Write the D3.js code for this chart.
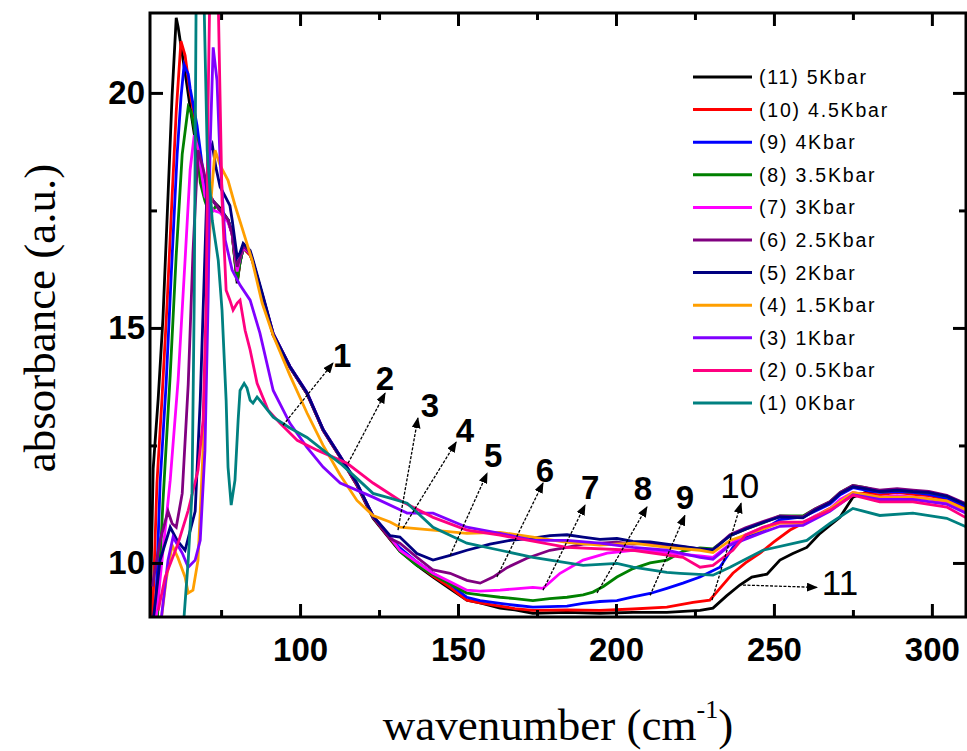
<!DOCTYPE html>
<html>
<head>
<meta charset="utf-8">
<script src="https://cdn.jsdelivr.net/npm/d3@7/dist/d3.min.js"></script>
<style>
  body { margin: 0; background: #fff; }
  svg { display: block; }
</style>
</head>
<body>
<svg></svg>
<script>
var screenWidth = 967
var screenHeight = 751

// legend text, top to bottom
var labels = ["(11) 5Kbar", "(10) 4.5Kbar", "(9) 4Kbar", "(8) 3.5Kbar", "(7) 3Kbar",
  "(6) 2.5Kbar", "(5) 2Kbar", "(4) 1.5Kbar", "(3) 1Kbar", "(2) 0.5Kbar", "(1) 0Kbar"]
var colors = ["#000000", "#ff0000", "#0000ff", "#008000", "#ff00ff",
  "#800080", "#000080", "#ff9f00", "#8000ff", "#ff0080", "#008080"]

var xMajorTicks = [100, 150, 200, 250, 300]
var xMinorTicks = [75, 125, 175, 225, 275]
var yMajorTicks = [10, 15, 20]
var yMinorTicks = [12.5, 17.5]

// [wavenumber, absorbance]
var p11 = [[52.5,8.6],[53.5,12.0],[55.1,13.5],[56.6,15.2],[58.2,17.8],[59.5,19.95],[60.8,21.6],[61.4,21.4],[62.3,21.0],[63.9,20.3],[65.2,19.7],[66.8,19.0],[68.4,18.2],[70.3,17.8],[72.5,17.7],[74.7,17.55],[77.2,17.3],[78.5,17.0],[80.1,15.95],[81.0,16.4],[82.0,16.7],[84.2,16.55],[85.1,16.4],[88.0,15.7],[91.5,14.85],[96.8,14.16],[102.2,13.6],[107.3,12.82],[112.7,12.25],[118.0,11.65],[123.1,10.95],[128.5,10.5],[131.6,10.25],[137,9.95],[142.1,9.7],[147.5,9.45],[152.8,9.21],[157,9.15],[163.3,9.04],[168,9.0],[173.7,8.93],[184.5,8.95],[194.9,8.93],[205.4,8.95],[216.1,8.95],[226.6,8.99],[230.7,9.04],[235,9.3],[239.2,9.53],[243,9.7],[247.8,9.76],[251.9,10.06],[256,10.2],[260.4,10.33],[264.6,10.63],[267.7,10.8],[270.9,10.97],[275.0,11.4],[279,11.5],[283.5,11.52],[289,11.55],[294,11.52],[299,11.5],[304.7,11.42],[311.1,11.22]]
var p10 = [[53.2,8.6],[54.7,11.7],[56.3,13.5],[57.9,15.5],[59.5,17.8],[60.8,19.6],[62.3,21.1],[63.6,20.8],[65.2,20.0],[67.1,19.3],[68.4,18.4],[70,17.9],[72.5,17.7],[74.7,17.5],[77.2,17.3],[78.5,17.0],[80.1,16.0],[81.0,16.4],[82.0,16.7],[84.2,16.55],[85.1,16.4],[88.0,15.7],[91.5,14.85],[96.8,14.16],[102.2,13.6],[107.3,12.82],[112.7,12.25],[118.0,11.65],[123.1,10.97],[128.5,10.52],[131.6,10.28],[137,9.98],[142.1,9.72],[147.5,9.48],[152.8,9.21],[157,9.15],[163.3,9.08],[168,9.03],[173.7,8.99],[184.5,9.0],[194.9,8.99],[205.4,9.02],[216.1,9.06],[224.4,9.16],[229.7,9.21],[232.9,9.46],[237.0,9.78],[241,10.0],[245.6,10.21],[250,10.45],[255.1,10.7],[262.3,10.95],[266,11.1],[270.9,11.27],[275.0,11.48],[279,11.48],[283.5,11.45],[289,11.5],[294,11.46],[299,11.43],[304.7,11.35],[311.1,11.15]]
var p9 = [[54.1,8.6],[55.7,11.7],[57.6,13.8],[59.2,16.1],[61.1,18.7],[62.3,19.9],[63.3,20.6],[64.6,20.4],[65.2,20.1],[67.4,19.3],[69.9,18.0],[72.5,17.7],[74.7,17.5],[77.2,17.3],[78.5,17.05],[80.1,16.1],[81.0,16.4],[82.0,16.7],[84.2,16.6],[85.1,16.4],[88.0,15.72],[91.5,14.88],[96.8,14.18],[102.2,13.62],[107.3,12.84],[112.7,12.27],[118.0,11.68],[123.1,11.0],[128.5,10.55],[131.6,10.32],[137,10.02],[142.1,9.78],[147.5,9.55],[152.8,9.27],[157,9.2],[163.3,9.14],[168,9.1],[173.7,9.06],[184.5,9.08],[189.6,9.14],[194.9,9.18],[200.3,9.2],[205.4,9.28],[210.8,9.35],[216.1,9.46],[221.2,9.57],[226.6,9.7],[232.9,9.91],[237.0,10.33],[241,10.55],[246.5,10.7],[251.9,10.92],[259.2,10.98],[263,11.1],[267.7,11.25],[271,11.45],[275.0,11.6],[279,11.55],[283.5,11.5],[289,11.52],[294,11.5],[299,11.46],[304.7,11.38],[311.1,11.2]]
var p8 = [[54.7,8.6],[56.6,11.3],[58.9,14.0],[60.8,16.55],[62.7,18.7],[64.6,19.7],[65.5,19.6],[66.1,19.4],[67.7,18.8],[68.4,18.1],[69.9,17.7],[71.5,17.4],[73.4,17.6],[74.7,17.5],[77.2,17.3],[78.5,17.0],[80.1,16.0],[81.0,16.4],[82.0,16.7],[84.2,16.6],[85.1,16.4],[88.0,15.7],[91.5,14.86],[96.8,14.17],[102.2,13.6],[107.3,12.83],[112.7,12.26],[118.0,11.67],[123.1,10.98],[128.5,10.55],[131.6,10.25],[137,9.95],[142.1,9.75],[147.5,9.55],[152.8,9.36],[157,9.32],[163.3,9.27],[168,9.24],[173.7,9.2],[179,9.24],[184.5,9.27],[189.6,9.32],[192.7,9.38],[196,9.5],[200.3,9.7],[205.4,9.88],[210.8,10.0],[216.1,10.06],[221.2,10.25],[226.6,10.32],[230.7,10.3],[236.1,10.58],[241,10.72],[246.5,10.85],[251.9,11.0],[259.2,11.0],[263,11.15],[267.7,11.3],[271,11.5],[275.0,11.65],[279,11.6],[283.5,11.52],[289,11.55],[294,11.52],[299,11.5],[304.7,11.42],[311.1,11.24]]
var p7 = [[54.1,8.6],[56.3,10.06],[58.9,11.76],[61.4,13.89],[63.6,16.44],[65.2,18.36],[66.5,19.1],[67.7,18.8],[69.9,17.8],[72.5,17.5],[74.7,17.45],[77.2,17.25],[78.5,17.0],[80.1,16.2],[81.0,16.5],[82.0,16.7],[84.2,16.6],[85.1,16.4],[88.0,15.72],[91.5,14.88],[96.8,14.18],[102.2,13.62],[107.3,12.84],[112.7,12.27],[118.0,11.68],[123.1,11.0],[128.5,10.55],[131.6,10.27],[137,10.02],[142.1,9.78],[147.5,9.6],[152.8,9.42],[157,9.4],[163.3,9.42],[168,9.45],[173.7,9.48],[176.9,9.46],[182.3,9.78],[189.6,10.06],[197.2,10.21],[205.4,10.27],[210.8,10.25],[216.1,10.22],[221.2,10.18],[226.6,10.15],[230.7,10.12],[236.1,10.4],[241,10.6],[246.5,10.75],[251.9,10.85],[259.2,10.85],[263,11.0],[267.7,11.15],[271,11.35],[275.0,11.5],[279,11.45],[283.5,11.4],[289,11.43],[294,11.4],[299,11.37],[304.7,11.28],[311.1,11.1]]
var p6 = [[53.2,9.5],[55.7,10.48],[58.2,11.1],[59.5,10.84],[60.8,10.76],[62.7,11.48],[64.6,13.8],[66.1,16.6],[67.7,18.78],[69.3,18.4],[70.9,17.9],[72.5,17.7],[74.7,17.5],[77.2,17.3],[78.5,17.0],[80.1,16.3],[81.0,16.5],[82.0,16.75],[84.2,16.6],[85.1,16.4],[88.0,15.7],[91.5,14.85],[96.8,14.16],[102.2,13.6],[107.3,12.82],[112.7,12.25],[118.0,11.66],[123.1,10.98],[128.5,10.52],[131.6,10.42],[137,10.12],[142.1,9.85],[147.5,9.78],[152.8,9.63],[157,9.57],[161.1,9.7],[165.5,9.9],[171.8,10.1],[179.1,10.27],[184.5,10.33],[189.6,10.4],[194.9,10.42],[200.3,10.44],[205.4,10.4],[210.8,10.42],[216.1,10.38],[221.2,10.34],[226.6,10.3],[230.7,10.28],[236.1,10.6],[241,10.75],[246.5,10.88],[251.9,11.0],[259.2,10.98],[263,11.15],[267.7,11.3],[271,11.5],[275.0,11.65],[279,11.6],[283.5,11.55],[289,11.58],[294,11.55],[299,11.52],[304.7,11.44],[311.1,11.25]]
var p5 = [[53.2,8.6],[55.7,10.06],[58.9,10.76],[61.1,10.48],[63.6,10.27],[66.8,11.1],[68.4,13.46],[69.9,16.6],[70.9,18.7],[72.2,18.9],[73.4,18.4],[74.7,18.0],[76.3,17.8],[77.8,17.6],[78.5,17.3],[80.1,16.5],[81.0,16.6],[82.0,16.8],[84.2,16.65],[85.1,16.45],[88.0,15.75],[91.5,14.88],[96.8,14.18],[102.2,13.62],[107.3,12.84],[112.7,12.27],[118.0,11.7],[123.1,11.0],[128.5,10.58],[131.6,10.55],[137,10.2],[142.1,10.06],[147.5,10.16],[152.8,10.27],[160.1,10.4],[166.5,10.48],[173.7,10.53],[179.1,10.58],[184.5,10.6],[189.6,10.55],[194.9,10.5],[200.3,10.52],[205.4,10.46],[210.8,10.45],[216.1,10.4],[221.2,10.35],[226.6,10.3],[230.7,10.28],[236.1,10.58],[241,10.72],[246.5,10.86],[251.9,10.98],[259.2,10.96],[263,11.12],[267.7,11.28],[271,11.48],[275.0,11.62],[279,11.58],[283.5,11.52],[289,11.55],[294,11.52],[299,11.5],[304.7,11.42],[311.1,11.23]]
var p4 = [[55.7,8.6],[57.6,9.63],[59.5,10.38],[61.4,10.1],[63.6,9.7],[64.6,9.36],[66.1,9.42],[67.7,10.06],[69.3,12.4],[70.6,15.59],[71.8,17.72],[73.1,18.78],[74.7,18.46],[77.2,18.14],[79.4,17.61],[81.6,17.14],[84.8,16.44],[88.0,15.53],[91.5,14.84],[96.8,13.99],[102.2,13.19],[107.3,12.5],[112.7,11.87],[118.0,11.33],[123.1,11.01],[128.5,10.87],[131.6,10.76],[142.1,10.7],[152.8,10.63],[163.3,10.65],[173.7,10.55],[184.5,10.44],[194.9,10.38],[205.4,10.42],[216.1,10.33],[226.6,10.27],[230.7,10.22],[236.1,10.48],[246.5,10.72],[251.9,10.85],[259.2,10.85],[267.7,11.15],[275,11.5],[283.5,11.4],[294,11.4],[304.7,11.32],[311.1,11.12]]
var p3 = [[55.7,8.6],[58.2,10.06],[59.8,10.55],[62.7,10.21],[64.6,9.91],[66.8,10.06],[68.4,10.48],[69.9,12.4],[70.9,15.59],[71.5,18.78],[72.5,20.97],[73.7,20.27],[74.7,18.57],[76.3,16.87],[78.5,16.23],[81.0,15.91],[84.2,15.59],[87.3,14.89],[91.5,13.67],[96.8,12.97],[102.2,12.46],[107.3,12.04],[112.7,11.7],[123.1,11.4],[133.9,11.06],[142.1,11.06],[152.8,10.76],[163.3,10.63],[173.7,10.48],[184.5,10.48],[194.9,10.42],[205.4,10.33],[216.1,10.27],[226.6,10.12],[230.7,10.08],[236.1,10.38],[246.5,10.65],[251.9,10.78],[259.2,10.8],[267.7,11.1],[275,11.45],[283.5,11.35],[294,11.35],[304.7,11.25],[311.1,11.05]]
var p2 = [[55.1,8.99],[57.3,9.7],[61.4,10.42],[64.6,11.12],[67.7,11.97],[69.3,13.04],[70.3,15.59],[70.9,19.84],[71.8,23.7],[73.1,23.7],[74.1,21.97],[74.7,19.84],[75.3,17.72],[76.6,15.8],[77.8,15.59],[78.8,15.38],[80.1,15.53],[81.0,15.59],[82.6,14.95],[84.2,14.53],[86.4,13.82],[89.9,13.25],[93.7,12.97],[99.1,12.61],[105.4,12.4],[114.9,12.12],[123.1,11.7],[131.6,11.33],[142.1,10.97],[152.8,10.7],[163.3,10.59],[184.5,10.33],[205.4,10.27],[221.2,10.12],[226.6,9.91],[230.7,9.95],[237,10.27],[241,10.59],[246.5,10.76],[251.9,10.87],[259.2,10.87],[267.7,11.12],[275,11.44],[283.5,11.3],[294,11.3],[304.7,11.19],[311.1,10.95]]
var p1 = [[63.0,8.6],[64.6,10.06],[65.8,11.48],[66.5,15.59],[67.1,21.97],[67.7,23.25],[69.0,23.25],[69.6,21.97],[70.6,18.78],[72.2,17.29],[74.1,16.44],[75.3,15.38],[76.6,13.46],[77.2,12.04],[78.2,11.23],[79.4,11.76],[80.4,13.04],[81.0,13.67],[82.3,13.82],[83.2,13.72],[84.2,13.46],[85.1,13.4],[86.4,13.53],[87.3,13.46],[91.5,13.1],[96.8,12.87],[102.2,12.67],[107.3,12.4],[112.7,12.12],[118.0,11.8],[123.1,11.48],[128.5,11.38],[133.9,11.27],[142.1,10.76],[152.8,10.42],[163.3,10.27],[173.7,10.12],[189.6,9.95],[200.3,9.99],[205.4,9.91],[216.1,9.8],[220.3,9.78],[230.7,9.74],[236.1,9.91],[246.5,10.27],[260.4,10.48],[267.7,10.84],[275,11.16],[283.5,11.01],[294,11.06],[304.7,10.95],[311.1,10.76]]

var series = [p11, p10, p9, p8, p7, p6, p5, p4, p3, p2, p1]

// curve tags with arrow tail (on curve), arrow head and tag position
var tagText = ["1", "2", "3", "4", "5", "6", "7", "8", "9", "10", "11"]
var tagFrom = [[94.6,12.93],[115.2,12.12],[131.0,10.7],[132.6,10.74],[147.5,10.16],[162.3,9.7],[176.9,9.42],[194.0,9.36],[210.8,9.31],[230.4,9.21],[240.2,9.53]]
var tagTo = [[110.4,14.25],[126.9,13.61],[137.3,13.08],[149.4,12.57],[159.2,11.91],[176.9,11.7],[190.2,11.23],[209.8,11.19],[221.8,11.01],[239.6,11.27],[263.6,9.48]]
var tagAt = [[113.3,14.42],[126.9,13.93],[141.1,13.36],[152.2,12.82],[161.1,12.29],[177.5,11.97],[191.8,11.61],[208.5,11.59],[221.8,11.4],[239.2,11.65],[270.9,9.59]]

var svg = d3.select('svg')
svg.attr("width", screenWidth)
svg.attr("height", screenHeight)

var plotLeft = 150, plotRight = 966, plotTop = 13, plotBottom = 617

var x = d3.scaleLinear().domain([52.5, 310.8]).range([plotLeft, plotRight])
var y = d3.scaleLinear().domain([8.85, 21.70]).range([plotBottom, plotTop])

var defs = svg.append("defs")
defs.append("clipPath").attr("id", "plotClip")
  .append("rect")
  .attr("x", plotLeft).attr("y", plotTop)
  .attr("width", plotRight - plotLeft).attr("height", plotBottom - plotTop)

defs.append("marker")
  .attr("id", "head")
  .attr("viewBox", "0 0 10 8")
  .attr("refX", 9).attr("refY", 4)
  .attr("markerWidth", 11).attr("markerHeight", 9)
  .attr("markerUnits", "userSpaceOnUse")
  .attr("orient", "auto")
  .append("path")
  .attr("d", "M0,0 L10,4 L0,8 Z")
  .attr("fill", "#000")

var line = d3.line()
  .x(d => x(d[0]))
  .y(d => y(d[1]))

var plot = svg.append("g").attr("clip-path", "url(#plotClip)")

plot.selectAll("path.spectrum")
  .data(series)
  .enter()
  .append("path")
  .attr("class", "spectrum")
  .attr("d", line)
  .attr("fill", "none")
  .attr("stroke", (d, i) => colors[i])
  .attr("stroke-width", 2.8)

// axes, ticks pointing inward
function styleAxis(g){
  g.select(".domain").remove()
  g.selectAll(".tick line").attr("stroke", "#000").attr("stroke-width", 3)
  g.selectAll("text")
    .attr("fill", "#000")
    .attr("font-family", "'Liberation Sans', Arial, sans-serif")
    .attr("font-weight", "bold")
    .attr("font-size", 33)
}

svg.append("g").attr("transform", "translate(0," + plotBottom + ")")
  .call(d3.axisBottom(x).tickValues(xMajorTicks).tickSizeInner(-13).tickSizeOuter(0).tickPadding(21).tickFormat(d3.format("d")))
  .call(styleAxis)
svg.append("g").attr("transform", "translate(0," + plotBottom + ")")
  .call(d3.axisBottom(x).tickValues(xMinorTicks).tickSizeInner(-7).tickSizeOuter(0).tickFormat(""))
  .call(styleAxis)
svg.append("g").attr("transform", "translate(0," + plotTop + ")")
  .call(d3.axisTop(x).tickValues(xMajorTicks).tickSizeInner(-13).tickSizeOuter(0).tickFormat(""))
  .call(styleAxis)
svg.append("g").attr("transform", "translate(0," + plotTop + ")")
  .call(d3.axisTop(x).tickValues(xMinorTicks).tickSizeInner(-7).tickSizeOuter(0).tickFormat(""))
  .call(styleAxis)

svg.append("g").attr("transform", "translate(" + plotLeft + ",0)")
  .call(d3.axisLeft(y).tickValues(yMajorTicks).tickSizeInner(-13).tickSizeOuter(0).tickPadding(5).tickFormat(d3.format("d")))
  .call(styleAxis)
svg.append("g").attr("transform", "translate(" + plotLeft + ",0)")
  .call(d3.axisLeft(y).tickValues(yMinorTicks).tickSizeInner(-7).tickSizeOuter(0).tickFormat(""))
  .call(styleAxis)
svg.append("g").attr("transform", "translate(" + plotRight + ",0)")
  .call(d3.axisRight(y).tickValues(yMajorTicks).tickSizeInner(-13).tickSizeOuter(0).tickFormat(""))
  .call(styleAxis)
svg.append("g").attr("transform", "translate(" + plotRight + ",0)")
  .call(d3.axisRight(y).tickValues(yMinorTicks).tickSizeInner(-7).tickSizeOuter(0).tickFormat(""))
  .call(styleAxis)

svg.append("rect")
  .attr("x", plotLeft).attr("y", plotTop)
  .attr("width", plotRight - plotLeft).attr("height", plotBottom - plotTop)
  .attr("fill", "none")
  .attr("stroke", "#000")
  .attr("stroke-width", 3)

// arrows and curve numbers
for (var k = 0; k < tagText.length; k++) {
  svg.append("line")
    .attr("x1", x(tagFrom[k][0])).attr("y1", y(tagFrom[k][1]))
    .attr("x2", x(tagTo[k][0])).attr("y2", y(tagTo[k][1]))
    .attr("stroke", "#000")
    .attr("stroke-width", 1.3)
    .attr("stroke-dasharray", "3,1.5")
    .attr("marker-end", "url(#head)")

  svg.append("text")
    .attr("x", x(tagAt[k][0]))
    .attr("y", y(tagAt[k][1]))
    .attr("text-anchor", "middle")
    .attr("dominant-baseline", "central")
    .attr("font-family", "'Liberation Sans', Arial, sans-serif")
    .attr("font-weight", tagText[k].length > 1 ? "normal" : "bold")
    .attr("font-size", tagText[k].length > 1 ? 35 : 33)
    .attr("fill", "#000")
    .text(tagText[k])
}

// legend
var legend = svg.append("g")
labels.forEach(function(label, i){
  var ly = 77 + i * 32.6
  legend.append("line")
    .attr("x1", 693).attr("x2", 752)
    .attr("y1", ly).attr("y2", ly)
    .attr("stroke", colors[i])
    .attr("stroke-width", 3)
  legend.append("text")
    .attr("x", 759)
    .attr("y", ly)
    .attr("dominant-baseline", "central")
    .attr("font-family", "'Liberation Sans', Arial, sans-serif")
    .attr("font-size", 19.5)
    .attr("letter-spacing", 1.8)
    .attr("fill", "#000")
    .text(label)
})

// axis titles
svg.append("text")
  .attr("transform", "translate(55,318) rotate(-90)")
  .attr("text-anchor", "middle")
  .attr("font-family", "'Liberation Serif', 'Times New Roman', serif")
  .attr("font-size", 45)
  .attr("fill", "#000")
  .text("absorbance (a.u.)")

var xt = svg.append("text")
  .attr("x", 558)
  .attr("y", 740)
  .attr("text-anchor", "middle")
  .attr("font-family", "'Liberation Serif', 'Times New Roman', serif")
  .attr("font-size", 45)
  .attr("fill", "#000")
xt.append("tspan").text("wavenumber (cm")
xt.append("tspan").attr("dy", -22).attr("font-size", 26).text("-1")
xt.append("tspan").attr("dy", 22).text(")")
</script>
</body>
</html>
